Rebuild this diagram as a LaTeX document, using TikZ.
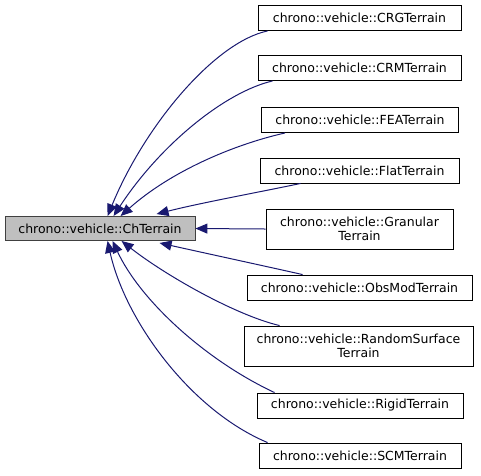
\documentclass[tikz,border=0pt]{standalone}
\usepackage{fontspec}
\setmainfont{DejaVu Sans}
\usetikzlibrary{arrows.meta}
\definecolor{edgeblue}{HTML}{191970}
\definecolor{basegray}{HTML}{BFBFBF}
\begin{document}
\begin{tikzpicture}[x=1pt,y=-1pt,
  box/.style={draw=black,line width=0.9pt,fill=white,inner sep=0pt,align=center,
    font=\fontsize{12.5}{14.5}\selectfont,minimum height=25pt},
  basebox/.style={box,fill=basegray,draw=black!75},
  inh/.style={draw=edgeblue,line width=1pt,-{Triangle[length=12pt,width=10pt]}}]
\useasboundingbox (0,0) rectangle (481,475);
\node[basebox,minimum width=190pt,minimum height=24pt] (base) at (100,228.5) {chrono::vehicle::ChTerrain};
\node[box,minimum width=203pt] (crg) at (359.5,18) {chrono::vehicle::CRGTerrain};
\node[box,minimum width=203pt] (crm) at (359.5,68) {chrono::vehicle::CRMTerrain};
\node[box,minimum width=197pt] (fea) at (360,120) {chrono::vehicle::FEATerrain};
\node[box,minimum width=199pt] (flat) at (359.5,170.5) {chrono::vehicle::FlatTerrain};
\node[box,minimum width=187pt,minimum height=40pt] (gran) at (359.5,229) {chrono::vehicle::Granular\\Terrain};
\node[box,minimum width=225pt] (obs) at (359.5,287.5) {chrono::vehicle::ObsModTerrain};
\node[box,minimum width=229pt,minimum height=40pt] (rand) at (358.5,346) {chrono::vehicle::RandomSurface\\Terrain};
\node[box,minimum width=206pt] (rigid) at (360,405.5) {chrono::vehicle::RigidTerrain};
\node[box,minimum width=202pt] (scm) at (360,455.5) {chrono::vehicle::SCMTerrain};
\draw[inh] ([xshift=10pt]crg.south west) .. controls (215,42) and (145,125) .. ([xshift=103pt]base.north west);
\draw[inh] ([xshift=15pt]crm.south west) .. controls (225,92) and (160,145) .. ([xshift=109pt]base.north west);
\draw[inh] ([xshift=24pt]fea.south west) .. controls (232,145) and (170,172) .. ([xshift=116pt]base.north west);
\draw[inh] ([xshift=41pt]flat.south west) .. controls (260,192) and (200,203) .. ([xshift=152pt,yshift=2pt]base.north west);
\draw[inh] (gran.west) -- (base.east);
\draw[inh] ([xshift=56pt]obs.north west) .. controls (260,265) and (200,252) .. ([xshift=155pt,yshift=-2pt]base.south west);
\draw[inh] ([xshift=36pt]rand.north west) .. controls (235,315) and (165,275) .. ([xshift=117pt]base.south west);
\draw[inh] ([xshift=18pt]rigid.north west) .. controls (205,360) and (140,300) .. ([xshift=108pt]base.south west);
\draw[inh] ([xshift=9pt]scm.north west) .. controls (190,410) and (125,320) .. ([xshift=103pt]base.south west);
\end{tikzpicture}
\end{document}
